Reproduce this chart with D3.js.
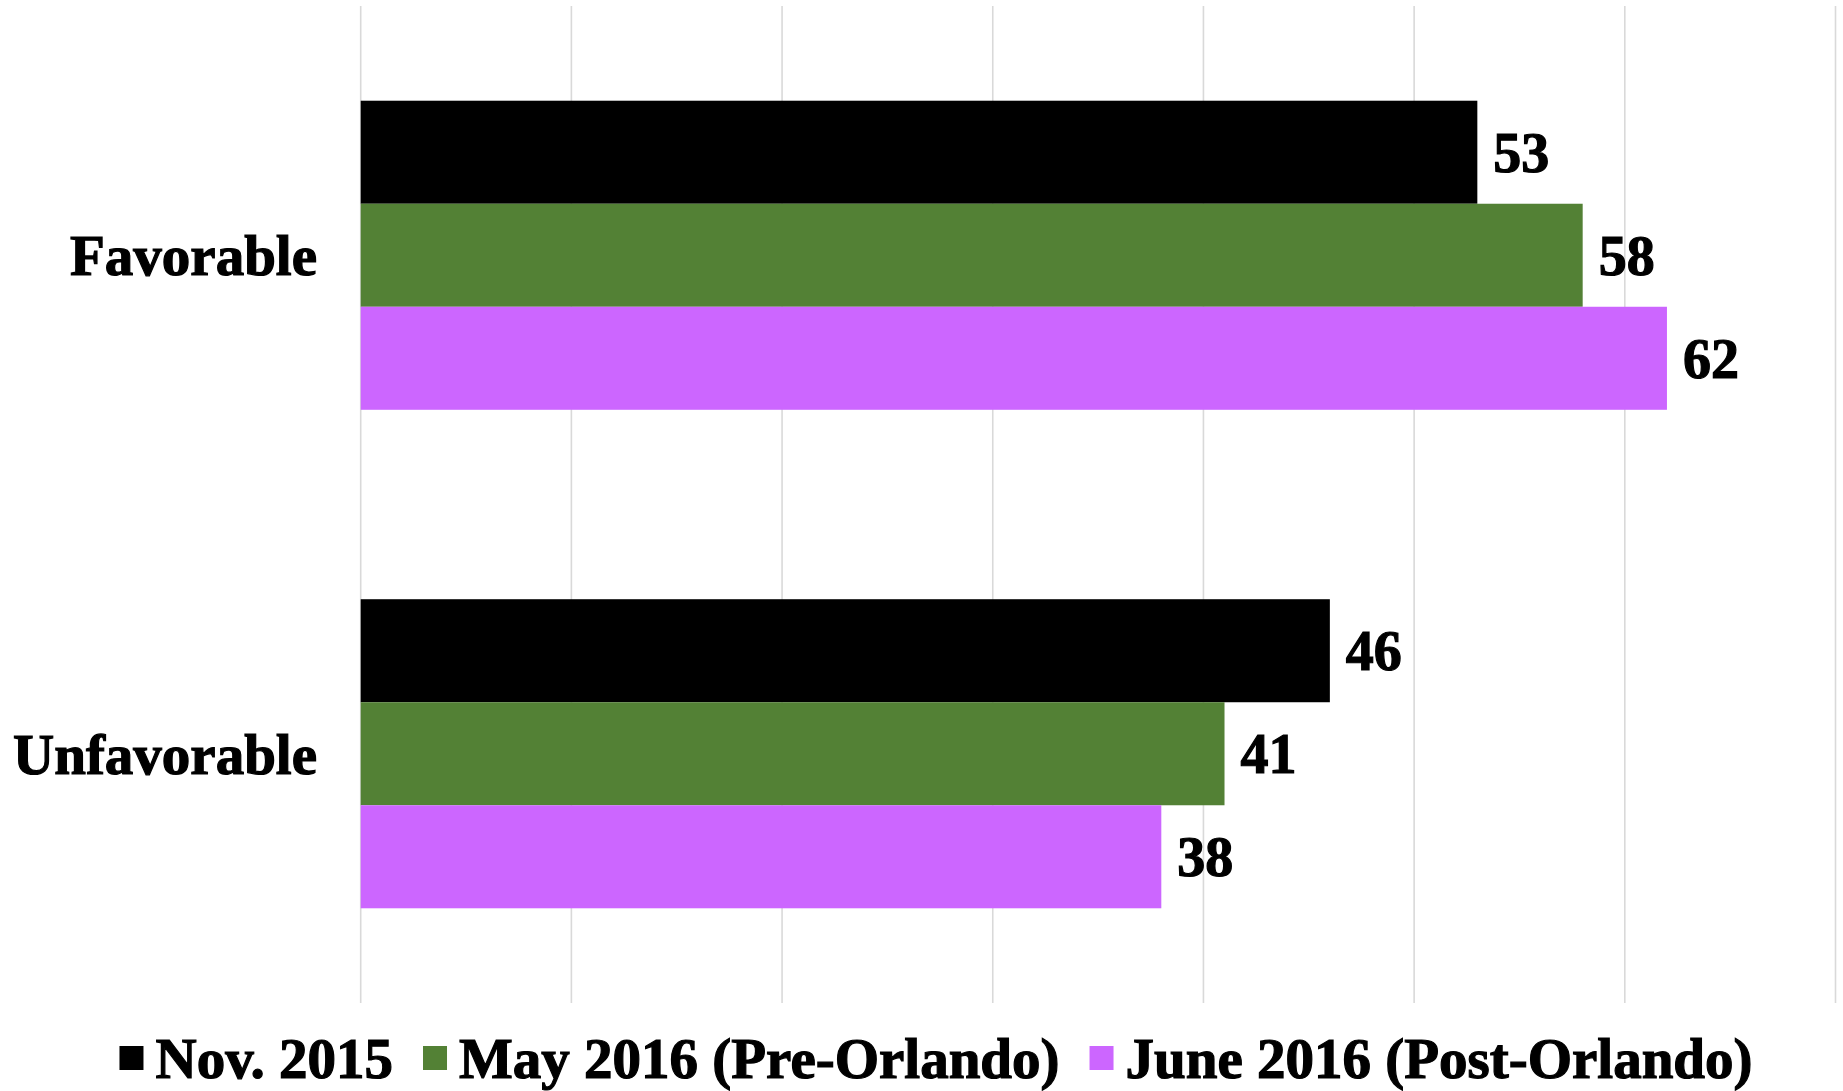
<!DOCTYPE html>
<html>
<head>
<meta charset="utf-8">
<script src="https://cdn.jsdelivr.net/npm/d3@7"></script>
<style>
  html, body { margin: 0; padding: 0; background: #fff; }
  svg { display: block; }
  text { font-family: "Liberation Serif", "Times New Roman", serif; font-weight: bold; fill: #000; }
</style>
</head>
<body>
<svg id="chart" width="1843" height="1091"></svg>
<script>
const categories = ["Favorable", "Unfavorable"];
const seriesNames = ["Nov. 2015", "May 2016 (Pre-Orlando)", "June 2016 (Post-Orlando)"];
const seriesColors = ["#000000", "#538135", "#CC66FF"];
const nov2015 = [53, 46];
const may2016 = [58, 41];
const june2016 = [62, 38];
const tickValues = [0, 10, 20, 30, 40, 50, 60, 70];

const seriesValues = [nov2015, may2016, june2016];

const W = 1843, H = 1091;
const margin = { left: 360.7, right: 7.5, top: 6, bottom: 88 };
const svg = d3.select("#chart");

const x = d3.scaleLinear().domain([0, 70]).range([margin.left, W - margin.right]);
const y0 = d3.scaleBand().domain(categories)
  .range([margin.top, H - margin.bottom])
  .paddingInner(0.38).paddingOuter(0.19);
const y1 = d3.scaleBand().domain(d3.range(seriesNames.length))
  .range([0, y0.bandwidth()]).padding(0);

// gridlines
svg.append("g").selectAll("line").data(tickValues).join("line")
  .attr("x1", d => x(d)).attr("x2", d => x(d))
  .attr("y1", margin.top).attr("y2", H - margin.bottom)
  .attr("stroke", "#d9d9d9").attr("stroke-width", 1.6);

// bars
const groups = svg.append("g").selectAll("g").data(categories).join("g")
  .attr("transform", c => `translate(0,${y0(c)})`);

groups.each(function(c, ci) {
  const g = d3.select(this);
  seriesValues.forEach((vals, si) => {
    g.append("rect")
      .attr("x", x(0))
      .attr("y", y1(si))
      .attr("width", x(vals[ci]) - x(0))
      .attr("height", y1.bandwidth())
      .attr("fill", seriesColors[si]);
    g.append("text")
      .attr("x", x(vals[ci]) + 16)
      .attr("y", y1(si) + y1.bandwidth() / 2)
      .attr("dy", "0.35em")
      .attr("font-size", 56)
      .attr("stroke", "#000").attr("stroke-width", 1.2)
      .text(vals[ci]);
  });
});

// category labels
svg.append("g").selectAll("text").data(categories).join("text")
  .attr("x", 317)
  .attr("y", c => y0(c) + y0.bandwidth() / 2)
  .attr("dy", "0.35em")
  .attr("text-anchor", "end")
  .attr("font-size", 57)
  .attr("stroke", "#000").attr("stroke-width", 1.2)
  .text(c => c);

// legend
const legend = svg.append("g");
const sq = 24, gapText = 12, gapItem = 30;
const items = [];
seriesNames.forEach((name, i) => {
  const it = legend.append("g");
  it.append("rect").attr("x", 0).attr("y", -sq / 2).attr("width", sq).attr("height", sq)
    .attr("fill", seriesColors[i]);
  const t = it.append("text").attr("x", sq + gapText).attr("y", 0).attr("dy", "0.35em")
    .attr("font-size", 57)
    .attr("stroke", "#000").attr("stroke-width", 1.2)
    .text(name);
  const w = sq + gapText + t.node().getComputedTextLength();
  items.push({ it, w });
});
const total = d3.sum(items, d => d.w) + gapItem * (items.length - 1);
let startX = 936 - total / 2;
items.forEach(d => {
  d.it.attr("transform", `translate(${startX},1058)`);
  startX += d.w + gapItem;
});
</script>
</body>
</html>
